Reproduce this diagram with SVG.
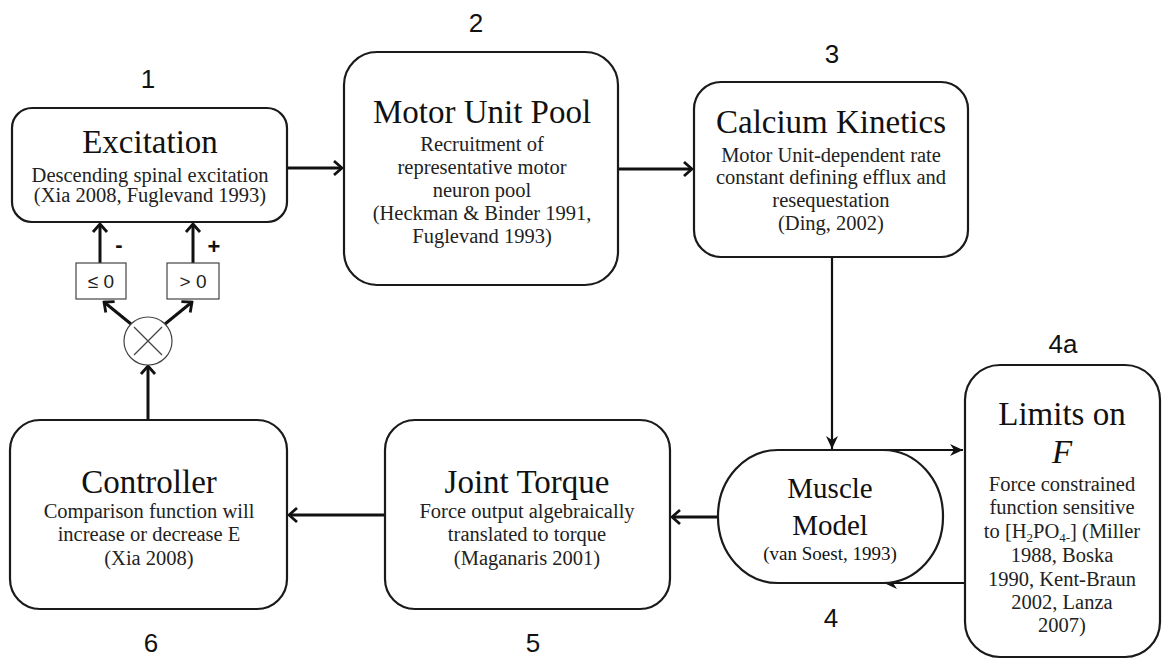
<svg xmlns="http://www.w3.org/2000/svg" width="1162" height="661" viewBox="0 0 1162 661">
<defs>
<style>
.box{fill:#fff;stroke:#1a1a1a;stroke-width:2.2}
.thin{fill:#fff;stroke:#444;stroke-width:1.2}
.t{font-family:"Liberation Serif","Times New Roman",serif;fill:#111;text-anchor:middle}
.title{font-size:33px}
.sub{font-size:20.5px;fill:#222}
.num{font-family:"Liberation Sans",Arial,sans-serif;font-size:26px;fill:#111;text-anchor:middle}
.small{font-family:"Liberation Sans",Arial,sans-serif;font-size:19px;fill:#222;text-anchor:middle}
.sign{font-family:"Liberation Sans",Arial,sans-serif;font-size:22px;font-weight:bold;fill:#111;text-anchor:middle}
.c{stroke:#111;stroke-width:3;fill:none}
.cl{stroke:#111;stroke-width:2.2;fill:none}
</style>
<marker id="v" viewBox="-12 -9 14 18" markerWidth="14" markerHeight="18" refX="0" refY="0" orient="auto" markerUnits="userSpaceOnUse">
<path d="M-8,-7 L0,0 L-8,7" fill="none" stroke="#111" stroke-width="2.8"/>
</marker>
<marker id="f" viewBox="-14 -8 16 16" markerWidth="16" markerHeight="16" refX="0" refY="0" orient="auto" markerUnits="userSpaceOnUse">
<path d="M-13,-6 L0,0 L-13,6 L-9,0 z" fill="#111"/>
</marker>
</defs>
<rect width="1162" height="661" fill="#fff"/>

<g id="connectors">
<line class="c" x1="287" y1="168" x2="342" y2="168" marker-end="url(#v)"/>
<line class="c" x1="618" y1="169" x2="692" y2="169" marker-end="url(#v)"/>
<line class="cl" x1="832" y1="257" x2="832" y2="449" marker-end="url(#f)"/>
<line class="cl" x1="880" y1="450" x2="963" y2="450" marker-end="url(#f)"/>
<line class="cl" x1="965" y1="583" x2="884" y2="583" marker-end="url(#f)"/>
<line class="c" x1="718" y1="517" x2="672" y2="517" stroke-width="3.5" marker-end="url(#v)"/>
<line class="c" x1="385" y1="515" x2="289" y2="515" marker-end="url(#v)"/>
<line class="c" x1="148" y1="420" x2="148" y2="366" marker-end="url(#v)"/>
<line class="c" x1="131" y1="324" x2="104" y2="302" marker-end="url(#v)"/>
<line class="c" x1="165" y1="324" x2="192" y2="302" marker-end="url(#v)"/>
<line class="c" x1="100" y1="263" x2="100" y2="224" marker-end="url(#v)"/>
<line class="c" x1="193" y1="263" x2="193" y2="224" marker-end="url(#v)"/>
</g>

<g id="excitation">
<rect class="box" x="12" y="108" width="275" height="114" rx="20"/>
<text class="num" x="148" y="88">1</text>
<text class="t title" x="150" y="153">Excitation</text>
<text class="t sub" x="150" y="182">Descending spinal excitation</text>
<text class="t sub" x="150" y="202">(Xia 2008, Fuglevand 1993)</text>
</g>

<g id="motor-unit-pool">
<rect class="box" x="344" y="52" width="274" height="233" rx="33"/>
<text class="num" x="476" y="32">2</text>
<text class="t title" x="482" y="123">Motor Unit Pool</text>
<text class="t sub" x="482" y="151">Recruitment of</text>
<text class="t sub" x="482" y="174">representative motor</text>
<text class="t sub" x="482" y="197">neuron pool</text>
<text class="t sub" x="482" y="220">(Heckman &amp; Binder 1991,</text>
<text class="t sub" x="482" y="243">Fuglevand 1993)</text>
</g>

<g id="calcium-kinetics">
<rect class="box" x="694" y="82" width="274" height="175" rx="27"/>
<text class="num" x="832" y="63">3</text>
<text class="t title" x="831" y="133">Calcium Kinetics</text>
<text class="t sub" x="831" y="162">Motor Unit-dependent rate</text>
<text class="t sub" x="831" y="184">constant defining efflux and</text>
<text class="t sub" x="831" y="207">resequestation</text>
<text class="t sub" x="831" y="230">(Ding, 2002)</text>
</g>

<g id="muscle-model">
<rect class="box" x="718" y="450" width="225" height="133" rx="60" ry="66"/>
<text class="num" x="831" y="627">4</text>
<text class="t" x="830" y="498" font-size="29">Muscle</text>
<text class="t" x="830" y="535" font-size="29">Model</text>
<text class="t" x="830" y="560" font-size="19" fill="#222">(van Soest, 1993)</text>
</g>

<g id="limits-on-f">
<rect class="box" x="965" y="365" width="195" height="292" rx="35"/>
<text class="num" x="1063" y="353">4a</text>
<text class="t title" x="1062" y="425">Limits on</text>
<text class="t title" x="1062" y="463" font-style="italic">F</text>
<text class="t sub" x="1062" y="491">Force constrained</text>
<text class="t sub" x="1062" y="514">function sensitive</text>
<text class="t sub" x="1062" y="538">to [H<tspan font-size="13" dy="4">2</tspan><tspan dy="-4">PO</tspan><tspan font-size="13" dy="4">4-</tspan><tspan dy="-4">] (Miller</tspan></text>
<text class="t sub" x="1062" y="562">1988, Boska</text>
<text class="t sub" x="1062" y="586">1990, Kent-Braun</text>
<text class="t sub" x="1062" y="609">2002, Lanza</text>
<text class="t sub" x="1062" y="632">2007)</text>
</g>

<g id="joint-torque">
<rect class="box" x="385" y="420" width="285" height="189" rx="30"/>
<text class="num" x="533" y="652">5</text>
<text class="t title" x="527" y="493">Joint Torque</text>
<text class="t sub" x="527" y="518">Force output algebraically</text>
<text class="t sub" x="527" y="541">translated to torque</text>
<text class="t sub" x="527" y="565">(Maganaris 2001)</text>
</g>

<g id="controller">
<rect class="box" x="10" y="420" width="277" height="189" rx="30"/>
<text class="num" x="151" y="652">6</text>
<text class="t title" x="149" y="493">Controller</text>
<text class="t sub" x="149" y="518">Comparison function will</text>
<text class="t sub" x="149" y="541">increase or decrease E</text>
<text class="t sub" x="149" y="565">(Xia 2008)</text>
</g>

<g id="comparator">
<circle class="thin" cx="148" cy="341" r="24"/>
<line x1="134" y1="327" x2="162" y2="355" stroke="#444" stroke-width="1.3"/>
<line x1="162" y1="327" x2="134" y2="355" stroke="#444" stroke-width="1.3"/>
</g>

<g id="le-zero">
<rect class="thin" x="76" y="263" width="50" height="36"/>
<text class="small" x="101" y="288">≤ 0</text>
<text class="sign" x="119" y="252">-</text>
</g>

<g id="gt-zero">
<rect class="thin" x="167" y="263" width="52" height="36"/>
<text class="small" x="193" y="288">&gt; 0</text>
<text class="sign" x="214" y="254">+</text>
</g>
</svg>
